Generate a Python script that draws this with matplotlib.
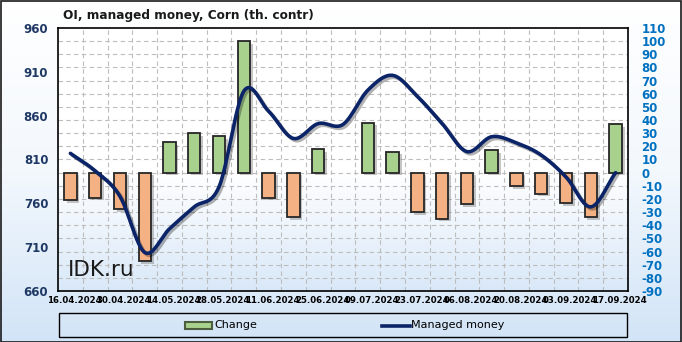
import numpy as np
import matplotlib
matplotlib.use("Agg")
import matplotlib.pyplot as plt
import matplotlib.patheffects as pe
import matplotlib.transforms as mtransforms
from matplotlib.patches import Rectangle
from matplotlib.lines import Line2D
from matplotlib.colors import LinearSegmentedColormap

# ---------------- data ----------------
dates = ["16.04.2024", "23.04.2024", "30.04.2024", "07.05.2024", "14.05.2024",
         "21.05.2024", "28.05.2024", "04.06.2024", "11.06.2024", "18.06.2024",
         "25.06.2024", "02.07.2024", "09.07.2024", "16.07.2024", "23.07.2024",
         "30.07.2024", "06.08.2024", "13.08.2024", "20.08.2024", "27.08.2024",
         "03.09.2024", "10.09.2024", "17.09.2024"]
change = [-21, -19, -28, -67, 23, 30, 28, 100, -19, -34, 18, 0, 38, 16,
          -30, -35, -24, 17, -10, -16, -23, -34, 37]
managed_money = [817, 797, 768, 704, 731, 756, 779, 888, 865, 834, 851, 850,
                 889, 906, 882, 851, 819, 836, 829, 815, 790, 756, 795]
left_ticks = [660, 710, 760, 810, 860, 910, 960]
right_ticks = list(range(-90, 111, 10))

title = "OI, managed money, Corn (th. contr)"

W, H = 682, 342
DPI = 100
fig = plt.figure(figsize=(W / DPI, H / DPI), dpi=DPI)

# figure background gradient
bg = fig.add_axes([0, 0, 1, 1], zorder=-10)
bg.axis("off")
cm_bg = LinearSegmentedColormap.from_list("bg", ["#ffffff", "#f3f8fd", "#d2e4f7"])
grad = np.linspace(0, 1, 256).reshape(-1, 1)
bg.imshow(grad, aspect="auto", cmap=cm_bg, extent=[0, 1, 0, 1], origin="upper")
bg.set_xlim(0, 1)
bg.set_ylim(0, 1)

# plot area
L, R, T, B = 58, 628, 28, 291
axb = fig.add_axes([L / W, 1 - B / H, (R - L) / W, (B - T) / H])
axb.set_facecolor("none")
cm_pa = LinearSegmentedColormap.from_list(
    "pa", [(0, "#ffffff"), (0.55, "#ffffff"), (1.0, "#d9e8f8")])
axb.imshow(grad, aspect="auto", cmap=cm_pa, extent=[0, 1, 0, 1],
           origin="upper", transform=axb.transAxes, zorder=0)

n = len(dates)
x = np.arange(n)
axb.set_xlim(-0.5, n - 0.5)
axb.set_ylim(-90, 110)

# grid
for k in range(1, n):
    axb.axvline(k - 0.5, color="#bdbdbd", lw=0.8, ls=(0, (4, 3)), zorder=1)
for v in right_ticks[1:-1]:
    axb.axhline(v, color="#bdbdbd", lw=0.8, ls=(0, (4, 3)), zorder=1)

colors = ["#a9d18e" if c >= 0 else "#f4b183" for c in change]
bars = axb.bar(x, change, width=0.5, color=colors, edgecolor="#262626",
               linewidth=1.3, zorder=3)
for b, c in zip(bars, change):
    if c == 0:
        b.set_visible(False)
    b.set_path_effects([pe.SimplePatchShadow(offset=(2, -2), shadow_rgbFace="#808080",
                                             alpha=0.45), pe.Normal()])

axb.set_xticks(x[::2])
axb.set_xticklabels(dates[::2], fontsize=6.2, fontweight="bold")
axb.tick_params(axis="x", length=0, pad=3.5)
offset = mtransforms.ScaledTranslation(4 / DPI, 0, fig.dpi_scale_trans)
for t in axb.get_xticklabels():
    t.set_transform(t.get_transform() + offset)

for s in axb.spines.values():
    s.set_color("black")
    s.set_linewidth(1.2)

# line axis (left)
axl = axb.twinx()
axl.set_ylim(660, 960)
for s in axl.spines.values():
    s.set_visible(False)

# right axis on the bar axes, left axis on the line axes
axb.yaxis.tick_right()
axb.yaxis.set_label_position("right")
axb.set_yticks(right_ticks)
axb.set_yticklabels([str(v) for v in right_ticks])
axb.tick_params(axis="y", which="both", left=False, labelleft=False,
                right=True, labelright=True, length=0, pad=9.5,
                labelsize=8.5, labelcolor="#0070c0")
for t in axb.get_yticklabels():
    t.set_fontweight("bold")

axl.yaxis.tick_left()
axl.yaxis.set_label_position("left")
axl.set_yticks(left_ticks)
axl.set_yticklabels([str(v) for v in left_ticks])
axl.tick_params(axis="y", which="both", right=False, labelright=False,
                left=True, labelleft=True, length=0, pad=7,
                labelsize=8.5, labelcolor="#1f3864")
for t in axl.get_yticklabels():
    t.set_fontweight("bold")


def catmull_rom(xs, ys, steps=24):
    xs = np.asarray(xs, float)
    ys = np.asarray(ys, float)
    px = np.concatenate([[2 * xs[0] - xs[1]], xs, [2 * xs[-1] - xs[-2]]])
    py = np.concatenate([[2 * ys[0] - ys[1]], ys, [2 * ys[-1] - ys[-2]]])
    ox, oy = [], []
    for i in range(1, len(px) - 2):
        t = np.linspace(0, 1, steps, endpoint=False)
        for arr, out in ((px, ox), (py, oy)):
            p0, p1, p2, p3 = arr[i - 1], arr[i], arr[i + 1], arr[i + 2]
            out.extend(0.5 * ((2 * p1) + (-p0 + p2) * t +
                              (2 * p0 - 5 * p1 + 4 * p2 - p3) * t ** 2 +
                              (-p0 + 3 * p1 - 3 * p2 + p3) * t ** 3))
    ox.append(xs[-1])
    oy.append(ys[-1])
    return np.array(ox), np.array(oy)


sx, sy = catmull_rom(x, managed_money)
axl.plot(sx, sy, color="#0b2468", lw=2.6, solid_capstyle="round", zorder=5,
         path_effects=[pe.SimpleLineShadow(offset=(1.5, -1.5), alpha=0.3),
                       pe.Normal()])

# watermark
fig.text(68 / W, 1 - 270 / H, "IDK.ru", fontsize=15.5, color="#1a1a1a",
         ha="left", va="center")

# title
fig.text(63 / W, 1 - 15.5 / H, title, fontsize=8.75, fontweight="bold",
         ha="left", va="center", color="#1a1a1a")

# legend (manual)
fig.add_artist(Rectangle((59 / W, 1 - 337 / H), (627 - 59) / W, (337 - 313) / H,
                         transform=fig.transFigure, facecolor="none",
                         edgecolor="black", lw=1.0))
fig.add_artist(Rectangle((185 / W, 1 - 329 / H), 27 / W, 7 / H,
                         transform=fig.transFigure, facecolor="#a9d18e",
                         edgecolor="#4d5e3f", lw=1.5))
fig.text(214 / W, 1 - 325.5 / H, "Change", fontsize=8, ha="left", va="center")
fig.add_artist(Line2D([382 / W, 410 / W], [1 - 325.5 / H, 1 - 325.5 / H],
                      transform=fig.transFigure, color="#0b2468", lw=2.6))
fig.text(411 / W, 1 - 325.5 / H, "Managed money", fontsize=8, ha="left", va="center")

# figure border
fig.add_artist(Rectangle((0.5 / W, 0.5 / H), 1 - 1.5 / W, 1 - 1.5 / H,
                         transform=fig.transFigure, facecolor="none",
                         edgecolor="#1a1a1a", lw=1.2))

fig.savefig("out.png", dpi=DPI)
